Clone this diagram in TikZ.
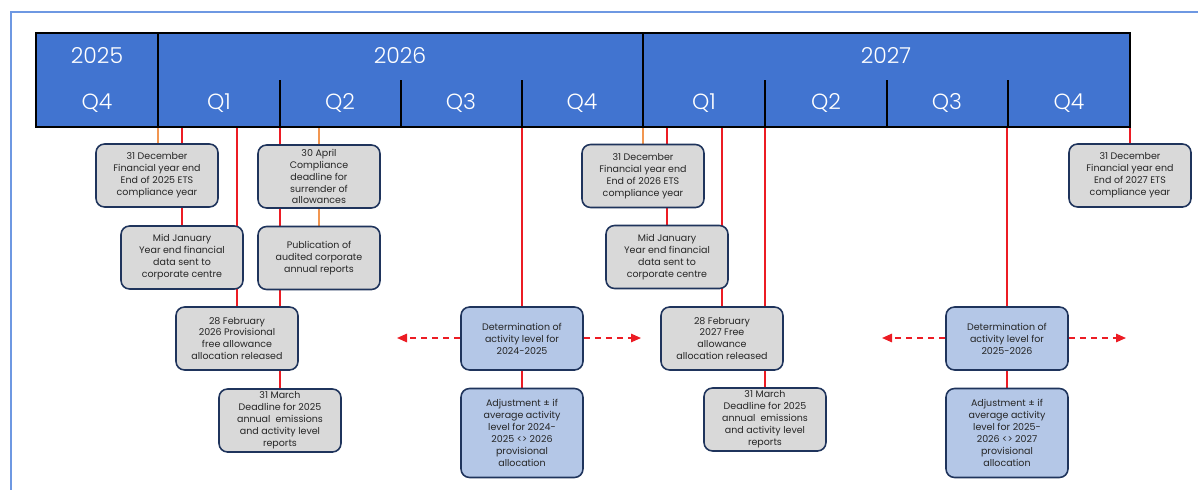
\documentclass[tikz,border=0pt]{standalone}
\usepackage{fontspec}
\setmainfont{Poppins}
\newfontfamily\lightfont{Poppins Light}
\usepackage{xcolor}
\usetikzlibrary{arrows.meta, backgrounds}
\definecolor{barblue}{RGB}{65,116,208}
\definecolor{framblue}{RGB}{110,152,226}
\definecolor{navy}{RGB}{31,52,92}
\definecolor{boxgray}{RGB}{217,217,217}
\definecolor{boxblue}{RGB}{180,199,231}
\definecolor{evred}{RGB}{236,28,36}
\definecolor{evorange}{RGB}{242,150,80}
\tikzstyle{event} = [rectangle, draw=navy, line width=0.9pt, rounded corners=0.17cm, align=center, minimum width=2.44cm, minimum height=1.26cm, inner sep=0, text=black!85, fill=boxgray, font=\fontsize{5.4}{6.8}\selectfont]
\tikzstyle{estim} = [event, fill=boxblue]
\tikzstyle{yearlab} = [text=white, font=\lightfont\fontsize{12.5}{14}\selectfont]
\tikzstyle{line} = [draw, evred, line width=0.85pt]
\tikzstyle{oline} = [draw, evorange, line width=0.85pt]
\tikzstyle{dline} = [draw, evred, line width=0.85pt, dash pattern=on 0.13cm off 0.09cm, -{Triangle[length=0.2cm,width=0.17cm]}]

\begin{document}
\begin{tikzpicture}[x=0.02cm, y=-0.02cm]
\useasboundingbox (0,0) rectangle (1198,490);
\draw [framblue, line width=0.85pt] (11,490) -- (11,12) -- (1198,12);

\fill [barblue] (36,33) rectangle (1130,127);
\draw [black, line width=0.9pt] (36,33) rectangle (1130,127);
\draw [black, line width=0.9pt] (158,33) -- (158,127) (643,33) -- (643,127);
\draw [black, line width=0.8pt] (280,80) -- (280,127) (401,80) -- (401,127) (522,80) -- (522,127)
  (765,80) -- (765,127) (887,80) -- (887,127) (1008,80) -- (1008,127);

\node [yearlab] (y25) at (97,56) {2025};
\node [yearlab] (y26) at (400,56) {2026};
\node [yearlab] (y27) at (886,56) {2027};
\node [yearlab] (q4a) at (97,103) {Q4};
\node [yearlab] (q1b) at (219,103) {Q1};
\node [yearlab] (q2b) at (340,103) {Q2};
\node [yearlab] (q3b) at (461,103) {Q3};
\node [yearlab] (q4b) at (582,103) {Q4};
\node [yearlab] (q1c) at (704,103) {Q1};
\node [yearlab] (q2c) at (826,103) {Q2};
\node [yearlab] (q3c) at (947,103) {Q3};
\node [yearlab] (q4c) at (1069,103) {Q4};

\node [event] (dec25) at (157,175.5) {31 December\\Financial year end\\End of 2025 ETS\\compliance year};
\node [event] (jan26) at (182,257.5) {Mid January\\Year end financial\\data sent to\\corporate centre};
\node [event] (feb26) at (237,338.5) {28 February\\2026 Provisional\\free allowance\\allocation released};
\node [event] (mar26) at (280,420.5) {31 March\\Deadline for 2025\\annual\ \ emissions\\and activity level\\reports};
\node [event] (apr26) at (319,176.5) {30 April\\Compliance\\deadline for\\surrender of\\allowances};
\node [event] (pub26) at (319,258) {Publication of\\audited corporate\\annual reports};
\node [estim] (det1) at (522,338.5) {Determination of\\activity level for\\2024-2025};
\node [estim, minimum height=1.78cm] (adj1) at (522,433) {Adjustment ± if\\average activity\\level for 2024-\\2025 <> 2026\\provisional\\allocation};

\node [event] (dec26) at (643,176) {31 December\\Financial year end\\End of 2026 ETS\\compliance year};
\node [event] (jan27) at (667,257) {Mid January\\Year end financial\\data sent to\\corporate centre};
\node [event] (feb27) at (722,338.5) {28 February\\2027 Free\\allowance\\allocation released};
\node [event] (mar27) at (765,419.5) {31 March\\Deadline for 2025\\annual\ \ emissions\\and activity level\\reports};
\node [estim] (det2) at (1007,338.5) {Determination of\\activity level for\\2025-2026};
\node [estim, minimum height=1.78cm] (adj2) at (1007,433) {Adjustment ± if\\average activity\\level for 2025-\\2026 <> 2027\\provisional\\allocation};
\node [event] (dec27) at (1130,175.5) {31 December\\Financial year end\\End of 2027 ETS\\compliance year};

\coordinate (t1) at (158,127);
\coordinate (t2) at (182,127);
\coordinate (t3) at (237,127);
\coordinate (t4) at (280,127);
\coordinate (t5) at (319,127);
\coordinate (t6) at (522,127);
\coordinate (t7) at (643,127);
\coordinate (t8) at (667,127);
\coordinate (t9) at (722,127);
\coordinate (t10) at (765,127);
\coordinate (t11) at (1007,127);
\coordinate (t12) at (1130,127);
\coordinate (l1) at (397,338);
\coordinate (r1) at (641,338);
\coordinate (l2) at (882,338);
\coordinate (r2) at (1126,338);

\begin{scope}[on background layer]
\path [oline] (t1) -- (t1 |- dec25.north);
\path [line] (t2) -- (t2 |- jan26.north);
\path [line] (t3) -- (t3 |- feb26.north);
\path [line] (t4) -- (t4 |- mar26.north);
\path [oline] (t5) -- (apr26);
\path [oline] (apr26) -- (pub26);
\path [line] (t6) -- (det1);
\path [line] (det1) -- (adj1);
\path [oline] (t7) -- (t7 |- dec26.north);
\path [line] (t8) -- (t8 |- jan27.north);
\path [line] (t9) -- (t9 |- feb27.north);
\path [line] (t10) -- (t10 |- mar27.north);
\path [line] (t11) -- (det2);
\path [line] (det2) -- (adj2);
\path [line] (t12) -- (t12 |- dec27.north);
\end{scope}

\path [dline] (det1.west |- l1) -- (l1);
\path [dline] (det1.east |- r1) -- (r1);
\path [dline] (det2.west |- l2) -- (l2);
\path [dline] (det2.east |- r2) -- (r2);

\end{tikzpicture}
\end{document}
